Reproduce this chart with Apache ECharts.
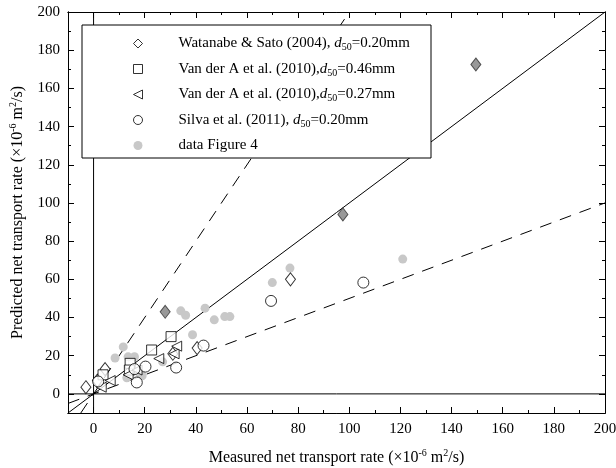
<!DOCTYPE html>
<html>
<head>
<meta charset="utf-8">
<script src="https://cdn.jsdelivr.net/npm/echarts@6/dist/echarts.min.js"></script>
<style>
  html, body { margin: 0; padding: 0; background: #fff; }
  #main { width: 616px; height: 468px; }
</style>
</head>
<body>
<div id="main"></div>
<script>
// measured (x) vs predicted (y), units 1e-6 m2/s
var watanabe = [[-3, 3.5], [1.5, 7], [4.5, 13], [31, 21], [40.5, 24], [77, 60]];
var watanabeDark = [[28, 43], [97.5, 94], [149.5, 172.5]];
var vanderA46 = [[3.7, 10], [14.3, 16], [22.7, 23], [30.3, 30], [14, 12.5]];
var vanderA27 = [[3, 3.5], [6.5, 7], [13.5, 10], [17, 12.5], [25.5, 18.5], [31.5, 21], [32.5, 25]];
var silva = [[1.8, 6.5], [16.9, 6], [16, 13], [20.3, 14.3], [32.3, 13.8], [43, 25.3], [69.4, 48.7], [105.5, 58.3]];
var fig4 = [[8.4, 18.8], [11.6, 24.6], [13.5, 19.4], [16, 19.5], [13, 8.4], [18, 11], [19, 9.5], [27, 16.8],
            [34.1, 43.5], [36, 41.2], [38.7, 31], [43.6, 44.9], [47.2, 38.8], [51.3, 40.5], [53.3, 40.5],
            [69.9, 58.3], [76.8, 65.9], [120.9, 70.6]];

// reference lines: 1:1, 2:1 and 1:2, plus zero axes
var lineOne = [[-10, -10], [200, 200]];
var lineTwo = [[-5, -10], [100, 200]];
var lineHalf = [[-10, -5], [200, 100]];
var zeroX = [[0, -10], [0, 200]];
var zeroY = [[-10, 0], [200, 0]];

var tickLabels = [0, 20, 40, 60, 80, 100, 120, 140, 160, 180, 200];
var minorTicks = [10, 30, 50, 70, 90, 110, 130, 150, 170, 190];

var legendNames = [
  ['Watanabe & Sato (2004), ', '=0.20mm'],
  ['Van der A et al. (2010),', '=0.46mm'],
  ['Van der A et al. (2010),', '=0.27mm'],
  ['Silva et al. (2011), ', '=0.20mm'],
  ['data Figure 4', null]
];
var seriesNames = legendNames.map(function (n) { return n[0] + (n[1] ? 'd50' + n[1] : ''); });

var serif = 'Liberation Serif';
var openStyle = { color: '#fff', borderColor: '#000', borderWidth: 1 };
var triPath = 'path://M0,5L10,0L10,10Z';

function axis(pos, ticks, len, labels) {
  var a = {
    type: 'value', min: -10, max: 200, position: pos,
    axisLine: { show: true, onZero: false, lineStyle: { color: '#000', width: 1 } },
    axisTick: { show: true, inside: true, length: len, customValues: ticks, lineStyle: { color: '#000' } },
    axisLabel: { show: false },
    splitLine: { show: false }
  };
  if (labels) {
    a.axisLabel = {
      show: true, customValues: tickLabels, color: '#000',
      fontFamily: serif, fontSize: 15, margin: 9
    };
  }
  return a;
}

var titleRich = {
  n: { fontFamily: serif, fontSize: 16, color: '#000', lineHeight: 20 },
  sup: { fontFamily: serif, fontSize: 10, color: '#000', lineHeight: 10, verticalAlign: 'top' }
};

var xs = [axis('bottom', tickLabels, 6, true), axis('bottom', minorTicks, 3),
          axis('top', tickLabels, 6), axis('top', minorTicks, 3)];
var ys = [axis('left', tickLabels, 6, true), axis('left', minorTicks, 3),
          axis('right', tickLabels, 6), axis('right', minorTicks, 3)];
xs[0].name = '{n|Measured net transport rate (×10}{sup|-6}{n| m}{sup|2}{n|/s)}';
xs[0].nameLocation = 'middle';
xs[0].nameGap = 35;
xs[0].nameTextStyle = { rich: titleRich };
ys[0].name = '{n|Predicted net transport rate (×10}{sup|-6}{n| m}{sup|2}{n|/s)}';
ys[0].nameLocation = 'middle';
ys[0].nameGap = 40;
ys[0].nameTextStyle = { rich: titleRich };
ys[0].axisLabel.margin = 8;

function refLine(data, dashed) {
  return {
    type: 'line', data: data, symbol: 'none', silent: true, z: 1,
    lineStyle: { color: '#000', width: 1, type: dashed ? [12, 9] : 'solid' }
  };
}

var legendStyle = { color: '#fff', borderColor: '#000', borderWidth: 1 };

var myChart = echarts.init(document.getElementById('main'));
var options = {
  animation: false,
  grid: { left: 68, right: 11, top: 12, bottom: 55, outerBoundsMode: 'none' },
  xAxis: xs,
  yAxis: ys,
  legend: {
    orient: 'vertical', left: 128, top: 31, itemGap: 9, z: 60,
    itemWidth: 9, itemHeight: 9,
    data: [
      { name: seriesNames[0], icon: 'diamond', itemStyle: legendStyle },
      { name: seriesNames[1], icon: 'rect', itemStyle: legendStyle },
      { name: seriesNames[2], icon: triPath, itemStyle: legendStyle },
      { name: seriesNames[3], icon: 'circle', itemStyle: legendStyle },
      { name: seriesNames[4], icon: 'circle', itemStyle: { color: '#c8c8c8', borderWidth: 0 } }
    ],
    formatter: function (name) {
      var i = seriesNames.indexOf(name);
      var n = legendNames[i];
      if (!n[1]) return '{g|}{n|' + n[0] + '}';
      return '{g|}{n|' + n[0] + '}{i|d}{sub|50}{n|' + n[1] + '}';
    },
    textStyle: {
      rich: {
        g: { width: 31 },
        n: { fontFamily: serif, fontSize: 15, color: '#000', lineHeight: 18 },
        i: { fontFamily: serif, fontSize: 15, fontStyle: 'italic', color: '#000', lineHeight: 18 },
        sub: { fontFamily: serif, fontSize: 10, color: '#000', lineHeight: 8, verticalAlign: 'bottom' }
      }
    }
  },
  graphic: [{
    type: 'rect', z: 50,
    shape: { x: 82, y: 25, width: 349, height: 133 },
    style: { fill: '#fff', stroke: '#000', lineWidth: 1 }
  }],
  series: [
    refLine(zeroX), refLine(zeroY), refLine(lineOne), refLine(lineTwo, true), refLine(lineHalf, true),
    { name: seriesNames[4], type: 'scatter', data: fig4, symbol: 'circle', symbolSize: 9, z: 2,
      itemStyle: { color: '#c8c8c8', opacity: 1 } },
    { name: seriesNames[0], type: 'scatter', data: watanabe, symbol: 'diamond', symbolSize: [10, 13], z: 3,
      itemStyle: openStyle },
    { name: 'dark', type: 'scatter', data: watanabeDark, symbol: 'diamond', symbolSize: [10, 13], z: 3,
      itemStyle: { color: '#808080', borderColor: '#333', borderWidth: 1 } },
    { name: seriesNames[1], type: 'scatter', data: vanderA46, symbol: 'rect', symbolSize: 10, z: 3,
      itemStyle: openStyle },
    { name: seriesNames[2], type: 'scatter', data: vanderA27, symbol: triPath, symbolSize: 10, z: 3,
      itemStyle: openStyle },
    { name: seriesNames[3], type: 'scatter', data: silva, symbol: 'circle', symbolSize: 11, z: 3,
      itemStyle: openStyle }
  ]
};
myChart.setOption(options);
</script>
</body>
</html>
